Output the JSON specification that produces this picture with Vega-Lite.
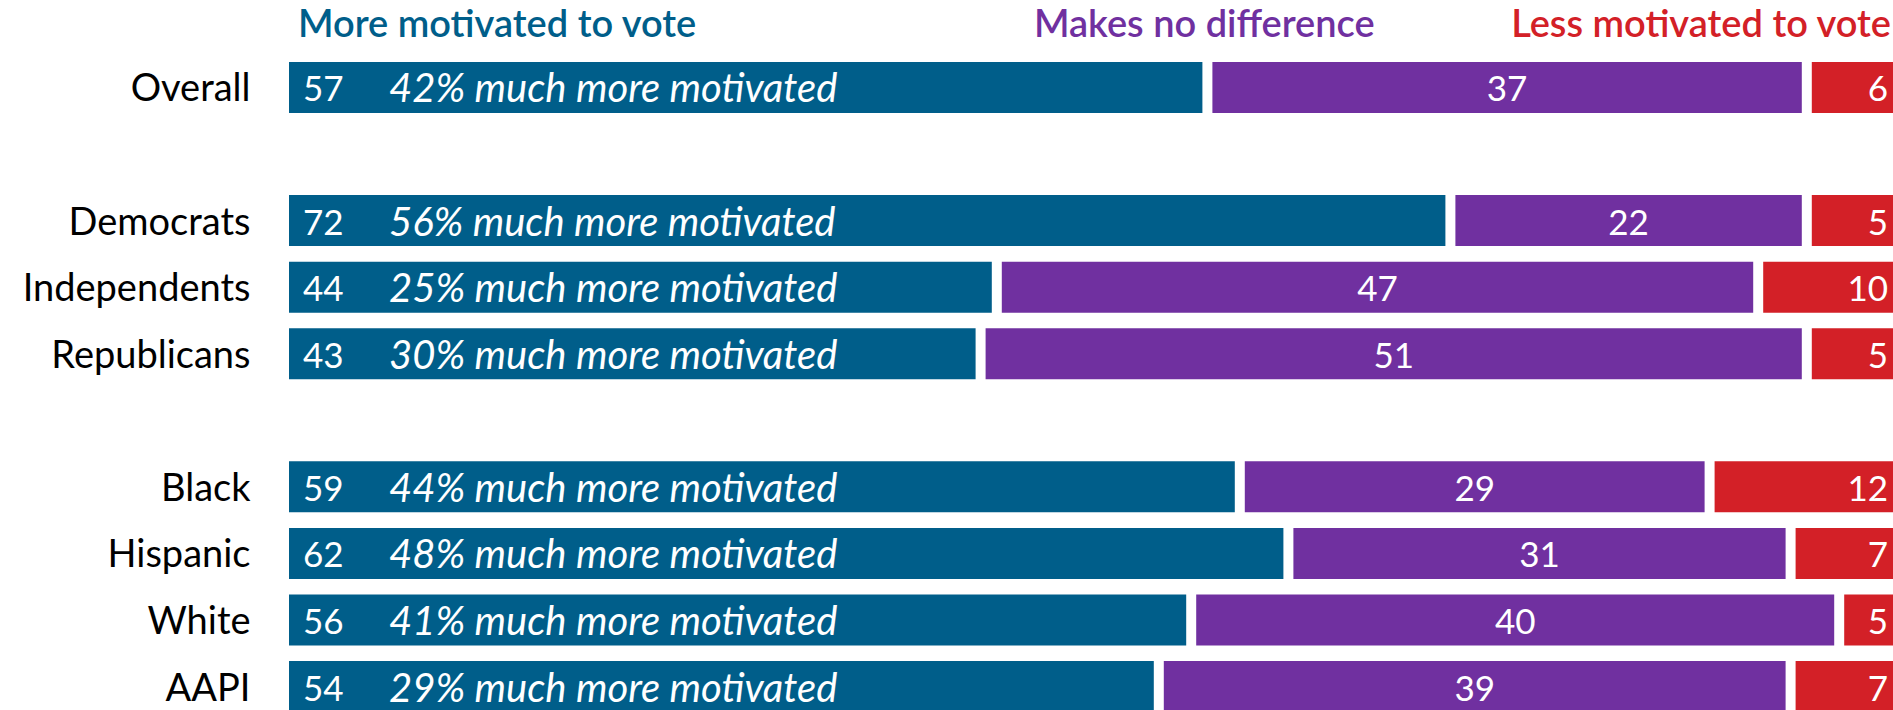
{
  "$schema": "https://vega.github.io/schema/vega-lite/v6.json",
  "width": 1620,
  "height": 650,
  "autosize": {"type": "none"},
  "padding": {"left": 289, "top": 62, "right": 0, "bottom": 0},
  "background": "white",
  "config": {"view": {"stroke": null}, "font": "Lato"},
  "datasets": {
    "resp": [
      {"group": "Overall", "response": "More motivated to vote", "pct": 57, "note": "42% much more motivated"},
      {"group": "Overall", "response": "Makes no difference", "pct": 37},
      {"group": "Overall", "response": "Less motivated to vote", "pct": 6},
      {"group": "Democrats", "response": "More motivated to vote", "pct": 72, "note": "56% much more motivated"},
      {"group": "Democrats", "response": "Makes no difference", "pct": 22},
      {"group": "Democrats", "response": "Less motivated to vote", "pct": 5},
      {"group": "Independents", "response": "More motivated to vote", "pct": 44, "note": "25% much more motivated"},
      {"group": "Independents", "response": "Makes no difference", "pct": 47},
      {"group": "Independents", "response": "Less motivated to vote", "pct": 10},
      {"group": "Republicans", "response": "More motivated to vote", "pct": 43, "note": "30% much more motivated"},
      {"group": "Republicans", "response": "Makes no difference", "pct": 51},
      {"group": "Republicans", "response": "Less motivated to vote", "pct": 5},
      {"group": "Black", "response": "More motivated to vote", "pct": 59, "note": "44% much more motivated"},
      {"group": "Black", "response": "Makes no difference", "pct": 29},
      {"group": "Black", "response": "Less motivated to vote", "pct": 12},
      {"group": "Hispanic", "response": "More motivated to vote", "pct": 62, "note": "48% much more motivated"},
      {"group": "Hispanic", "response": "Makes no difference", "pct": 31},
      {"group": "Hispanic", "response": "Less motivated to vote", "pct": 7},
      {"group": "White", "response": "More motivated to vote", "pct": 56, "note": "41% much more motivated"},
      {"group": "White", "response": "Makes no difference", "pct": 40},
      {"group": "White", "response": "Less motivated to vote", "pct": 5},
      {"group": "AAPI", "response": "More motivated to vote", "pct": 54, "note": "29% much more motivated"},
      {"group": "AAPI", "response": "Makes no difference", "pct": 39},
      {"group": "AAPI", "response": "Less motivated to vote", "pct": 7}
    ],
    "heads": [
      {"response": "More motivated to vote", "pos": 0},
      {"response": "Makes no difference", "pos": 56.5},
      {"response": "Less motivated to vote", "pos": 100}
    ]
  },
  "data": {"name": "resp"},
  "transform": [
    {"stack": "pct", "groupby": ["group"], "sort": [{"field": "response", "order": "descending"}], "as": ["x0", "x1"]},
    {"calculate": "(datum.x0 + datum.x1) / 2", "as": "mid"}
  ],
  "encoding": {
    "y": {
      "field": "group",
      "type": "nominal",
      "title": null,
      "scale": {
        "domain": ["Overall", " ", "Democrats", "Independents", "Republicans", "  ", "Black", "Hispanic", "White", "AAPI"],
        "paddingInner": 0.234,
        "paddingOuter": 0
      },
      "axis": {
        "domain": false,
        "ticks": false,
        "labelFontSize": 38,
        "labelColor": "#000000",
        "labelFont": "Lato",
        "labelPadding": 39,
        "labelLimit": 0,
        "labelOffset": 3
      }
    },
    "color": {
      "field": "response",
      "type": "nominal",
      "scale": {
        "domain": ["More motivated to vote", "Makes no difference", "Less motivated to vote"],
        "range": ["#005e8a", "#7030a0", "#d32027"]
      },
      "legend": null
    }
  },
  "layer": [
    {
      "transform": [{"filter": "datum.response != 'Less motivated to vote'"}],
      "mark": {"type": "bar", "x2Offset": -10},
      "encoding": {
        "x": {"field": "x0", "type": "quantitative", "scale": {"domain": [0, 100], "nice": false, "zero": true}, "axis": null},
        "x2": {"field": "x1"}
      }
    },
    {
      "transform": [{"filter": "datum.response == 'Less motivated to vote'"}],
      "mark": {"type": "bar"},
      "encoding": {
        "x": {"field": "x0", "type": "quantitative"},
        "x2": {"datum": 102}
      }
    },
    {
      "transform": [{"filter": "datum.response == 'More motivated to vote'"}],
      "mark": {"type": "text", "align": "left", "baseline": "middle", "dx": 14, "dy": 3, "fontSize": 35, "color": "white"},
      "encoding": {
        "x": {"field": "x0", "type": "quantitative"},
        "text": {"field": "pct", "type": "quantitative"},
        "color": {"value": "white"}
      }
    },
    {
      "transform": [{"filter": "datum.response == 'More motivated to vote'"}],
      "mark": {"type": "text", "align": "left", "baseline": "middle", "dx": 100, "dy": 3, "fontSize": 40, "fontStyle": "italic", "color": "white"},
      "encoding": {
        "x": {"field": "x0", "type": "quantitative"},
        "text": {"field": "note", "type": "nominal"},
        "color": {"value": "white"}
      }
    },
    {
      "transform": [{"filter": "datum.response == 'Makes no difference'"}],
      "mark": {"type": "text", "align": "center", "baseline": "middle", "dx": -5, "dy": 3, "fontSize": 35, "color": "white"},
      "encoding": {
        "x": {"field": "mid", "type": "quantitative"},
        "text": {"field": "pct", "type": "quantitative"},
        "color": {"value": "white"}
      }
    },
    {
      "transform": [{"filter": "datum.response == 'Less motivated to vote'"}],
      "mark": {"type": "text", "align": "right", "baseline": "middle", "dx": -21, "dy": 3, "fontSize": 35, "color": "white"},
      "encoding": {
        "x": {"datum": 100, "type": "quantitative"},
        "text": {"field": "pct", "type": "quantitative"},
        "color": {"value": "white"}
      }
    },
    {
      "data": {"name": "heads"},
      "transform": [{"filter": "datum.response == 'More motivated to vote'"}],
      "mark": {"type": "text", "align": "left", "baseline": "middle", "dx": 9, "dy": -61, "fontSize": 38, "fontWeight": 600},
      "encoding": {
        "x": {"field": "pos", "type": "quantitative"},
        "y": {"datum": "Overall"},
        "text": {"field": "response", "type": "nominal"}
      }
    },
    {
      "data": {"name": "heads"},
      "transform": [{"filter": "datum.response == 'Makes no difference'"}],
      "mark": {"type": "text", "align": "center", "baseline": "middle", "dy": -61, "fontSize": 38, "fontWeight": 600},
      "encoding": {
        "x": {"field": "pos", "type": "quantitative"},
        "y": {"datum": "Overall"},
        "text": {"field": "response", "type": "nominal"}
      }
    },
    {
      "data": {"name": "heads"},
      "transform": [{"filter": "datum.response == 'Less motivated to vote'"}],
      "mark": {"type": "text", "align": "right", "baseline": "middle", "dx": -18, "dy": -61, "fontSize": 38, "fontWeight": 600},
      "encoding": {
        "x": {"field": "pos", "type": "quantitative"},
        "y": {"datum": "Overall"},
        "text": {"field": "response", "type": "nominal"}
      }
    }
  ]
}
